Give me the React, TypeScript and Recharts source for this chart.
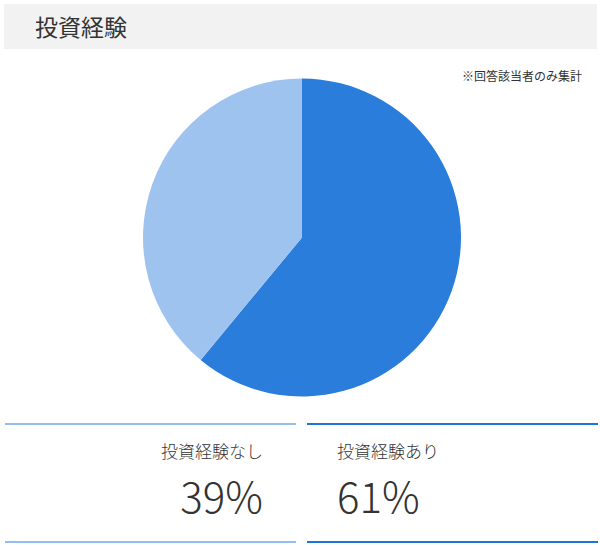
import React from 'react';
import { Cell, Pie, PieChart } from 'recharts';

// 投資経験の円グラフ(あり / なし)
const CATEGORIES = ['投資経験あり', '投資経験なし'];
const SHARES = [61, 39];
const SLICE_COLORS = ['#2b7ddc', '#9fc3ef'];
const LINE_COLORS = ['#1f74d9', '#94bdf0'];

const FONT = '"Noto Sans CJK JP", "Noto Sans", sans-serif';
const INK = '#333333';

const data = CATEGORIES.map((name, i) => ({ name, value: SHARES[i] }));

function Card({ idx, left, align }: { idx: number; left: number; align: 'left' | 'right' }) {
  const line = LINE_COLORS[idx];
  const pad = align === 'right' ? { right: 33 } : { left: 30 };
  return (
    <div
      style={{
        position: 'absolute',
        left,
        top: 423,
        width: 291,
        height: 120,
        borderTop: `2px solid ${line}`,
        borderBottom: `2px solid ${line}`,
        boxSizing: 'border-box',
      }}
    >
      <div
        style={{
          position: 'absolute',
          top: 17,
          ...pad,
          fontSize: 17,
          lineHeight: '17px',
          fontWeight: 300,
          color: INK,
          whiteSpace: 'nowrap',
        }}
      >
        {CATEGORIES[idx]}
      </div>
      <div
        style={{
          position: 'absolute',
          top: 49,
          ...pad,
          fontSize: 42,
          lineHeight: '42px',
          fontWeight: 300,
          color: INK,
          whiteSpace: 'nowrap',
        }}
      >
        {SHARES[idx]}%
      </div>
    </div>
  );
}

export default function App() {
  return (
    <div style={{ position: 'absolute', left: 0, top: 0, width: 600, height: 545, background: '#fff', fontFamily: FONT }}>
      <div
        style={{
          position: 'absolute',
          left: 4,
          top: 4,
          width: 593,
          height: 45,
          background: '#f2f2f2',
        }}
      >
        <span
          style={{
            position: 'absolute',
            left: 31,
            top: 11,
            fontSize: 23,
            lineHeight: '23px',
            color: INK,
          }}
        >
          投資経験
        </span>
      </div>
      <div
        style={{
          position: 'absolute',
          right: 18,
          top: 69,
          fontSize: 12,
          lineHeight: '14px',
          color: INK,
        }}
      >
        ※回答該当者のみ集計
      </div>
      <div style={{ position: 'absolute', left: 0, top: 50 }}>
        <PieChart width={600} height={370} margin={{ top: 0, right: 0, bottom: 0, left: 0 }}>
          <Pie
            data={data}
            dataKey="value"
            nameKey="name"
            cx={302}
            cy={187.5}
            outerRadius={159}
            startAngle={90}
            endAngle={-270}
            stroke="none"
            isAnimationActive={false}
          >
            {data.map((d, i) => (
              <Cell key={d.name} fill={SLICE_COLORS[i]} />
            ))}
          </Pie>
        </PieChart>
      </div>
      <Card idx={1} left={5} align="right" />
      <Card idx={0} left={307} align="left" />
    </div>
  );
}
